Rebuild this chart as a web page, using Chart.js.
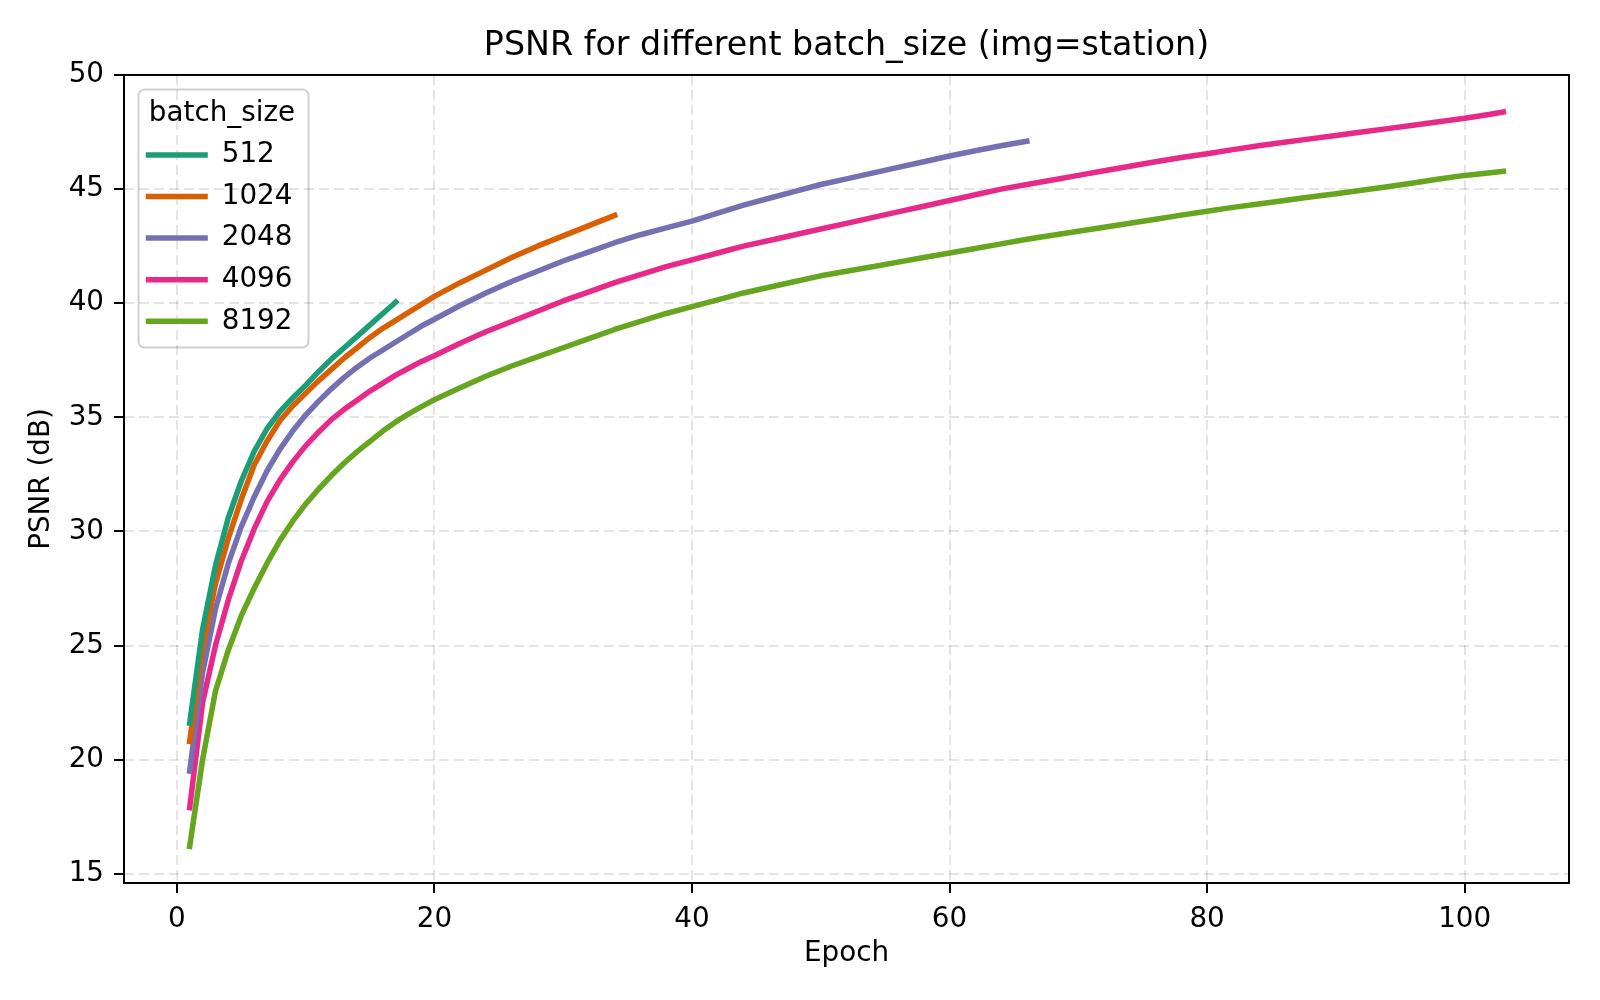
<!DOCTYPE html>
<html>
<head>
<meta charset="utf-8">
<script src="https://cdn.jsdelivr.net/npm/chart.js@4.4.1/dist/chart.umd.min.js"></script>
<style>
    html, body { margin: 0; padding: 0; background: #ffffff; }
    canvas { display: block; }
</style>
</head>
<body>
<canvas id="psnrChart" width="1600" height="1000"></canvas>
<script>
// epochs 1..20 one by one, then every second epoch, then the last one
const epochs = [1, 2, 3, 4, 5, 6, 7, 8, 9, 10, 11, 12, 13, 14, 15, 16, 17, 18, 19, 20,
    22, 24, 26, 28, 30, 32, 34, 36, 38, 40, 42, 44, 46, 48, 50, 52, 54, 56, 58, 60,
    62, 64, 66, 68, 70, 72, 74, 76, 78, 80, 82, 84, 86, 88, 90, 92, 94, 96, 98, 100,
    102, 103];

const batchSizes = ['512', '1024', '2048', '4096', '8192'];

const psnr512 = [21.6, 25.7, 28.5, 30.6, 32.2, 33.5, 34.5, 35.25, 35.85, 36.4,
    37.0, 37.55, 38.05, 38.55, 39.05, 39.55, 40.05];

const psnr1024 = [20.8, 24.9, 27.7, 29.7, 31.4, 32.9, 33.95, 34.85, 35.5, 36.05,
    36.6, 37.1, 37.6, 38.05, 38.5, 38.9, 39.25, 39.6, 39.95, 40.3,
    40.9, 41.45, 42.0, 42.5, 42.95, 43.4, 43.85];

const psnr2048 = [19.5, 23.8, 26.6, 28.6, 30.2, 31.5, 32.65, 33.6, 34.4, 35.1,
    35.7, 36.25, 36.75, 37.2, 37.6, 37.95, 38.3, 38.65, 39.0, 39.3,
    39.9, 40.45, 40.95, 41.4, 41.85, 42.25, 42.65, 43.0, 43.3, 43.6,
    43.95, 44.3, 44.6, 44.9, 45.2, 45.45, 45.7, 45.95, 46.2, 46.45,
    46.68, 46.9, 47.1];

const psnr4096 = [17.9, 22.5, 25.0, 27.0, 28.7, 30.1, 31.3, 32.25, 33.05, 33.75,
    34.35, 34.9, 35.35, 35.75, 36.15, 36.5, 36.85, 37.15, 37.45, 37.7,
    38.25, 38.75, 39.2, 39.65, 40.1, 40.5, 40.9, 41.25, 41.6, 41.9,
    42.2, 42.5, 42.75, 43.0, 43.25, 43.5, 43.75, 44.0, 44.25, 44.5,
    44.75, 45.0, 45.2, 45.4, 45.6, 45.8, 46.0, 46.2, 46.38, 46.55,
    46.73, 46.9, 47.05, 47.2, 47.35, 47.5, 47.65, 47.8, 47.95, 48.1,
    48.28, 48.38];

const psnr8192 = [16.2, 20.0, 23.0, 24.8, 26.3, 27.5, 28.6, 29.6, 30.45, 31.2,
    31.85, 32.45, 33.0, 33.5, 33.95, 34.4, 34.8, 35.15, 35.47, 35.77,
    36.3, 36.8, 37.25, 37.65, 38.05, 38.45, 38.85, 39.2, 39.55, 39.85,
    40.15, 40.45, 40.7, 40.95, 41.2, 41.4, 41.6, 41.8, 42.0, 42.2,
    42.4, 42.6, 42.8, 42.98, 43.15, 43.33, 43.5, 43.68, 43.86, 44.03,
    44.2, 44.35, 44.5, 44.65, 44.8, 44.95, 45.1, 45.27, 45.44, 45.6,
    45.72, 45.78];

const xTickValues = [0, 20, 40, 60, 80, 100];
const yTickValues = [15, 20, 25, 30, 35, 40, 45, 50];

const seriesValues = [psnr512, psnr1024, psnr2048, psnr4096, psnr8192];
const seriesColors = ['#1b9e77', '#d95f02', '#7570b3', '#e7298a', '#66a61e'];

Chart.defaults.font.family = "'DejaVu Sans', sans-serif";
Chart.defaults.color = '#000000';

// matplotlib-like frame: legend box behind the legend, all four spines on top
const framePlugin = {
    id: 'framePlugin',
    afterLayout(chart) {
        const lg = chart.legend;
        lg.left = 132;
        lg.top = 89;
        lg.width = 180;
        lg.right = lg.left + lg.width;
        lg.bottom = chart.chartArea.bottom;
        lg.height = lg.bottom - lg.top;
    },
    beforeDraw(chart) {
        const ctx = chart.ctx;
        ctx.save();
        ctx.beginPath();
        ctx.roundRect(138.5, 89.5, 170, 258, 6);
        ctx.fillStyle = '#ffffff';
        ctx.fill();
        ctx.lineWidth = 2;
        ctx.strokeStyle = '#d0d0d0';
        ctx.stroke();
        ctx.restore();
    },
    afterDatasetsDraw(chart) {
        const {ctx, chartArea} = chart;
        ctx.save();
        ctx.lineWidth = 2;
        ctx.strokeStyle = '#000000';
        ctx.strokeRect(chartArea.left, chartArea.top, chartArea.right - chartArea.left, chartArea.bottom - chartArea.top);
        ctx.restore();
    }
};

const gridStyle = {
    color: 'rgba(0, 0, 0, 0.1)',
    lineWidth: 2,
    tickColor: '#000000',
    tickWidth: 2,
    tickLength: 10,
    tickBorderDash: []
};

const ctx = document.getElementById('psnrChart').getContext('2d');
const psnrChart = new Chart(ctx, {
    type: 'line',
    data: {
        datasets: batchSizes.map((label, k) => ({
            label: label,
            data: seriesValues[k].map((v, i) => ({ x: epochs[i], y: v })),
            borderColor: seriesColors[k],
            backgroundColor: seriesColors[k],
            borderWidth: 5.5,
            borderCapStyle: 'square',
            borderJoinStyle: 'round',
            pointRadius: 0,
            fill: false,
            tension: 0
        }))
    },
    options: {
        responsive: false,
        animation: false,
        devicePixelRatio: 1,
        layout: {
            padding: { left: 0, right: 31, top: 0, bottom: 0 }
        },
        scales: {
            x: {
                type: 'linear',
                min: -4.1,
                max: 108.1,
                afterBuildTicks: (scale) => { scale.ticks = xTickValues.map(v => ({ value: v })); },
                afterFit: (scale) => { scale.height = 117; },
                ticks: { padding: 10, font: { size: 27.8 } },
                grid: gridStyle,
                border: { display: false, dash: [10, 5] },
                title: {
                    display: true,
                    text: 'Epoch',
                    font: { size: 27.8 },
                    padding: { top: 0, bottom: 30 }
                }
            },
            y: {
                type: 'linear',
                min: 14.6,
                max: 50.0,
                afterBuildTicks: (scale) => { scale.ticks = yTickValues.map(v => ({ value: v })); },
                afterFit: (scale) => { scale.width = 124; },
                ticks: { padding: 10, font: { size: 27.8 } },
                grid: gridStyle,
                border: { display: false, dash: [10, 5] },
                title: {
                    display: true,
                    text: 'PSNR (dB)',
                    font: { size: 27.8 },
                    padding: { top: 25, bottom: 0 }
                }
            }
        },
        plugins: {
            title: {
                display: true,
                fullSize: false,
                text: 'PSNR for different batch_size (img=station)',
                color: '#000000',
                font: { size: 33.3, weight: 'normal' },
                padding: { top: 26, bottom: 9 }
            },
            legend: {
                position: 'chartArea',
                align: 'start',
                title: {
                    display: true,
                    text: 'batch_size',
                    position: 'center',
                    color: '#000000',
                    font: { size: 27.8, lineHeight: 1 },
                    padding: { top: 10.4, bottom: 0 }
                },
                labels: {
                    usePointStyle: true,
                    pointStyle: 'line',
                    pointStyleWidth: 62,
                    padding: 13.8,
                    color: '#000000',
                    font: { size: 27.8 }
                }
            },
            tooltip: { enabled: false }
        }
    },
    plugins: [framePlugin]
});
</script>
</body>
</html>
